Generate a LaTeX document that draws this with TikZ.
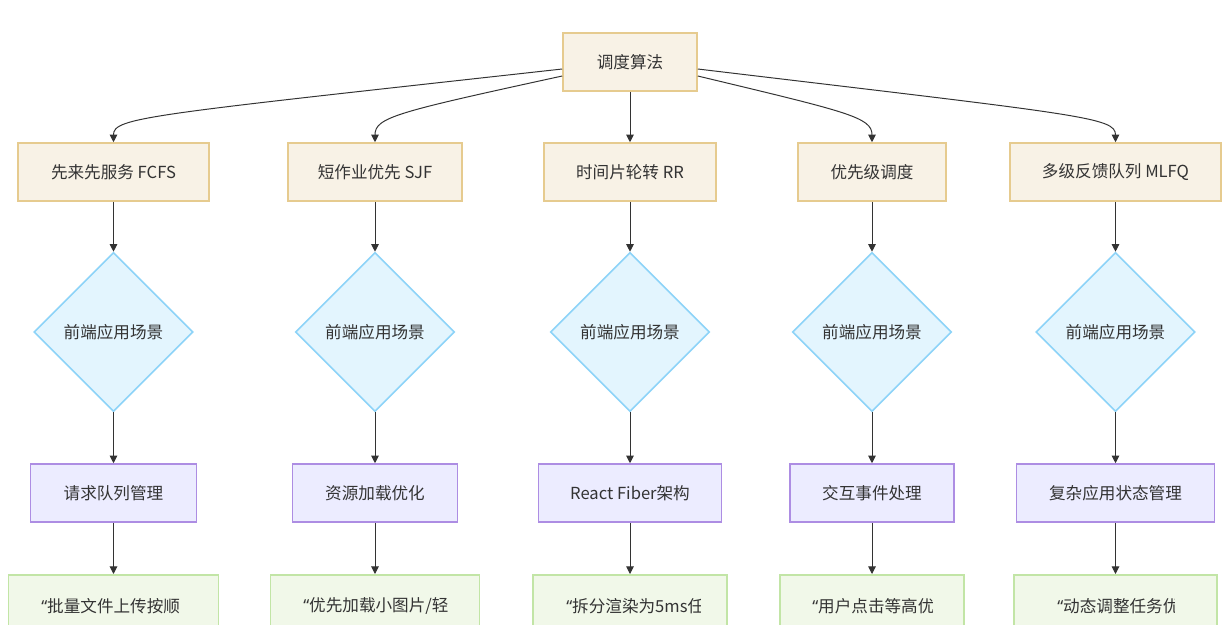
\documentclass[tikz,border=0pt]{standalone}
\usepackage{fontspec}
\setmainfont{Noto Sans CJK SC}
\newfontfamily\quotefont{Noto Sans}
\usetikzlibrary{arrows.meta, shapes.geometric, calc}

\definecolor{algfill}{HTML}{F8F2E6}
\definecolor{algline}{HTML}{E6CB8F}
\definecolor{scenefill}{HTML}{E3F5FE}
\definecolor{sceneline}{HTML}{8DD3F8}
\definecolor{featfill}{HTML}{ECECFF}
\definecolor{featline}{HTML}{AD8DE3}
\definecolor{casefill}{HTML}{F1F8E9}
\definecolor{caseline}{HTML}{C2E5A6}
\definecolor{txtgray}{HTML}{333333}

\begin{document}
\begin{tikzpicture}[x=0.025cm, y=-0.025cm,
  every node/.style={font=\fontsize{11.8}{13}\selectfont, text=txtgray},
  algbox/.style={draw=algline, fill=algfill, line width=1.1pt, minimum height=1.45cm},
  scenebox/.style={diamond, aspect=1, draw=sceneline, fill=scenefill, line width=1.1pt, inner sep=0pt, minimum width=3.975cm, minimum height=3.975cm},
  featbox/.style={draw=featline, fill=featfill, line width=1.1pt, minimum height=1.45cm},
  casebox/.style={draw=caseline, fill=casefill, line width=1.1pt, minimum height=2.5cm, anchor=north},
  notetext/.style={anchor=west, inner sep=0pt},
  link/.style={draw=txtgray, line width=0.7pt, -{Triangle[length=0.19cm, width=0.19cm]}}]
\clip (0,0) rectangle (1232,625);
\fill[white] (0,0) rectangle (1232,625);

% root
\node[algbox, minimum width=3.35cm] (root) at (630,62) {调度算法};

% algorithms
\node[algbox, minimum width=4.775cm] (alg1) at (113.5,172) {先来先服务 FCFS};
\node[algbox, minimum width=4.35cm] (alg2) at (375,172) {短作业优先 SJF};
\node[algbox, minimum width=4.3cm] (alg3) at (630,172) {时间片轮转 RR};
\node[algbox, minimum width=3.7cm] (alg4) at (872,172) {优先级调度};
\node[algbox, minimum width=5.275cm] (alg5) at (1115.5,172) {多级反馈队列 MLFQ};

% scenes
\node[scenebox] (scene1) at (113.5,332) {前端应用场景};
\node[scenebox] (scene2) at (375,332) {前端应用场景};
\node[scenebox] (scene3) at (630,332) {前端应用场景};
\node[scenebox] (scene4) at (872,332) {前端应用场景};
\node[scenebox] (scene5) at (1115.5,332) {前端应用场景};

% features
\node[featbox, minimum width=4.15cm] (feat1) at (113.5,493) {请求队列管理};
\node[featbox, minimum width=4.125cm] (feat2) at (375,493) {资源加载优化};
\node[featbox, minimum width=4.575cm] (feat3) at (630,493) {React Fiber架构};
\node[featbox, minimum width=4.1cm] (feat4) at (872,493) {交互事件处理};
\node[featbox, minimum width=4.95cm] (feat5) at (1115.5,493) {复杂应用状态管理};

% cases
\node[casebox, minimum width=5.25cm] (case1) at (113.5,574) {};
\node[casebox, minimum width=5.225cm] (case2) at (375,574) {};
\node[casebox, minimum width=4.85cm] (case3) at (630,574) {};
\node[casebox, minimum width=4.6cm] (case4) at (872,574) {};
\node[casebox, minimum width=5.075cm] (case5) at (1115.5,574) {};

\begin{scope}
\clip (41,590) rectangle (187,625);
\node[notetext] (note1) at (41,606) {{\quotefont “}批量文件上传按顺};
\end{scope}
\begin{scope}
\clip (303,590) rectangle (449,625);
\node[notetext] (note2) at (303,606) {{\quotefont “}优先加载小图片/轻};
\end{scope}
\begin{scope}
\clip (566,590) rectangle (700,625);
\node[notetext] (note3) at (566,606) {{\quotefont “}拆分渲染为5ms任};
\end{scope}
\begin{scope}
\clip (812,590) rectangle (932,625);
\node[notetext] (note4) at (812,606) {{\quotefont “}用户点击等高优};
\end{scope}
\begin{scope}
\clip (1057,590) rectangle (1174,625);
\node[notetext] (note5) at (1057,606) {{\quotefont “}动态调整任务优};
\end{scope}

% links
\draw[link] ($(root.west)+(0,7)$) .. controls +(-415,46) and +(0,-25) .. (alg1.north);
\draw[link] ($(root.west)+(0,14)$) .. controls +(-165,36) and +(0,-25) .. (alg2.north);
\draw[link] (root) -- (alg3);
\draw[link] ($(root.east)+(0,14)$) .. controls +(150,36) and +(0,-25) .. (alg4.north);
\draw[link] ($(root.east)+(0,7)$) .. controls +(385,46) and +(0,-25) .. (alg5.north);
\foreach \i in {1,...,5}
{
	\draw[link] (alg\i) -- (scene\i);
	\draw[link] (scene\i) -- (feat\i);
	\draw[link] (feat\i) -- (case\i.north);
}
\end{tikzpicture}
\end{document}
